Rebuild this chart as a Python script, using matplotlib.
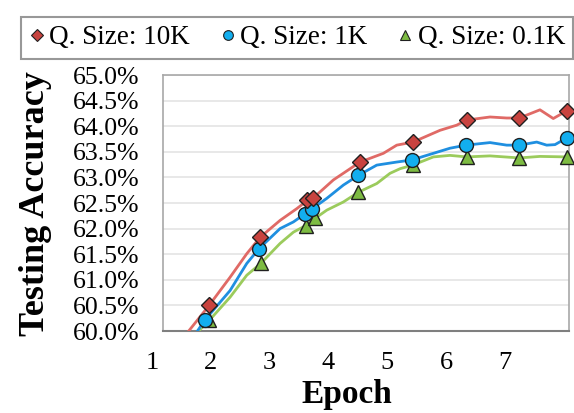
import matplotlib
matplotlib.use("Agg")
import matplotlib.pyplot as plt
from matplotlib.lines import Line2D
from matplotlib.transforms import blended_transform_factory

# ---- data ----
red_line_x = [1.62, 1.973, 2.329, 2.613, 2.839, 3.178, 3.462, 3.642, 3.744, 4.083, 4.537,
              4.932, 5.160, 5.436, 5.895, 6.178, 6.348, 6.744, 7.027, 7.241, 7.592, 7.818, 8.046]
red_line_y = [59.99, 60.50, 61.05, 61.51, 61.83, 62.16, 62.39, 62.55, 62.60, 62.95, 63.30,
              63.47, 63.63, 63.69, 63.92, 64.02, 64.12, 64.18, 64.16, 64.16, 64.32, 64.15, 64.30]
blue_line_x = [1.769, 1.905, 2.329, 2.613, 2.822, 3.178, 3.404, 3.603, 3.727, 3.971, 4.253, 4.508,
               4.820, 5.160, 5.414, 5.781, 6.064, 6.336, 6.744, 7.027, 7.241, 7.537, 7.706, 7.847, 8.046]
blue_line_y = [59.99, 60.22, 60.79, 61.32, 61.61, 62.00, 62.13, 62.29, 62.39, 62.59, 62.85, 63.04,
               63.24, 63.30, 63.34, 63.47, 63.57, 63.63, 63.68, 63.63, 63.63, 63.69, 63.63, 63.64, 63.77]
green_line_x = [1.786, 1.978, 2.329, 2.613, 2.851, 3.178, 3.404, 3.615, 3.773, 3.971, 4.253, 4.508,
                4.820, 5.046, 5.216, 5.431, 5.781, 6.064, 6.348, 6.744, 7.241, 7.592, 8.046]
green_line_y = [59.99, 60.21, 60.66, 61.09, 61.32, 61.71, 61.93, 62.06, 62.20, 62.36, 62.52, 62.71,
                62.88, 63.08, 63.17, 63.24, 63.40, 63.43, 63.40, 63.42, 63.38, 63.41, 63.40]

red_mark_x = [1.973, 2.839, 3.642, 3.744, 4.537, 5.436, 6.348, 7.241, 8.046]
red_mark_y = [60.50, 61.84, 62.55, 62.60, 63.30, 63.70, 64.12, 64.16, 64.30]
blue_mark_x = [1.905, 2.822, 3.603, 3.727, 4.508, 5.414, 6.336, 7.241, 8.046]
blue_mark_y = [60.22, 61.61, 62.29, 62.39, 63.04, 63.34, 63.63, 63.63, 63.77]
green_mark_x = [1.978, 2.851, 3.615, 3.773, 4.508, 5.431, 6.348, 7.241, 8.046]
green_mark_y = [60.21, 61.32, 62.06, 62.20, 62.71, 63.24, 63.40, 63.38, 63.40]

series_labels = ["Q. Size: 10K", "Q. Size: 1K", "Q. Size: 0.1K"]
x_tick_labels = ["1", "2", "3", "4", "5", "6", "7"]
y_ticks = [60.0, 60.5, 61.0, 61.5, 62.0, 62.5, 63.0, 63.5, 64.0, 64.5, 65.0]

# ---- styling ----
plt.rcParams["font.family"] = ["Liberation Serif", "DejaVu Serif"]
line_cols = ["#E06A66", "#1F8FE0", "#9BCB5C"]
mark_cols = ["#C8433F", "#12AEEF", "#7DBB42"]
markers = ["D", "o", "^"]
msizes = [8.5, 10, 10]

fig = plt.figure(figsize=(5.74, 4.13), dpi=100)
ax = fig.add_axes([163/574, 1-331/413, (569-163)/574, (331-75)/413])

ax.set_xlim(1.19, 8.085)
ax.set_ylim(60.0, 65.0)

lines = [(red_line_x, red_line_y), (blue_line_x, blue_line_y), (green_line_x, green_line_y)]
marks = [(red_mark_x, red_mark_y), (blue_mark_x, blue_mark_y), (green_mark_x, green_mark_y)]

for i in (2, 1, 0):
    lx, ly = lines[i]
    ax.plot(lx, ly, color=line_cols[i], lw=2.0, zorder=3, solid_capstyle="round")
for i in (2, 1, 0):
    mx, my = marks[i]
    ax.plot(mx, my, ls="none", marker=markers[i], ms=msizes[i], mfc=mark_cols[i],
            mec="#202020", mew=1.0, zorder=4, clip_on=False)

ax.set_yticks(y_ticks)
ax.set_yticklabels([f"{v:.1f}%" for v in y_ticks], fontsize=18.5)
ax.tick_params(axis="y", length=0, pad=17)
ax.set_xticks([])
ax.grid(axis="y", color="#E6E6E6", lw=1.3)
ax.set_axisbelow(True)
for s in ["top", "left", "right"]:
    ax.spines[s].set_color("#A8A8A8")
    ax.spines[s].set_linewidth(1.2)
ax.spines["bottom"].set_color("#7F7F7F")
ax.spines["bottom"].set_linewidth(1.5)

trans = blended_transform_factory(ax.transData, fig.transFigure)
for i, lab in enumerate(x_tick_labels):
    ax.text(i + 1, 1 - 363/413, lab, transform=trans, ha="center", va="center",
            fontsize=19, clip_on=False)

fig.text(347/574, 1 - 394/413, "Epoch", ha="center", va="center", fontsize=24, fontweight="bold")
fig.text(36/574, 1 - 204/413, "Testing Accuracy", ha="center", va="center", rotation=90,
         fontsize=26, fontweight="bold")

handles = [Line2D([], [], ls="none", marker=markers[i], ms=[6, 7, 7][i], mfc=mark_cols[i],
                  mec="#202020", mew=0.8) for i in range(3)]
leg = fig.legend(handles, series_labels, loc="center", bbox_to_anchor=(297/574, 1 - 38/413),
                 ncol=3, frameon=True, fontsize=19.5, handlelength=0.6, handletextpad=0.15,
                 columnspacing=1.1, borderpad=0.3, fancybox=False, borderaxespad=0)
leg.get_frame().set_edgecolor("#7F7F7F")
leg.get_frame().set_linewidth(1.5)

fig.savefig("out.png", dpi=100)
